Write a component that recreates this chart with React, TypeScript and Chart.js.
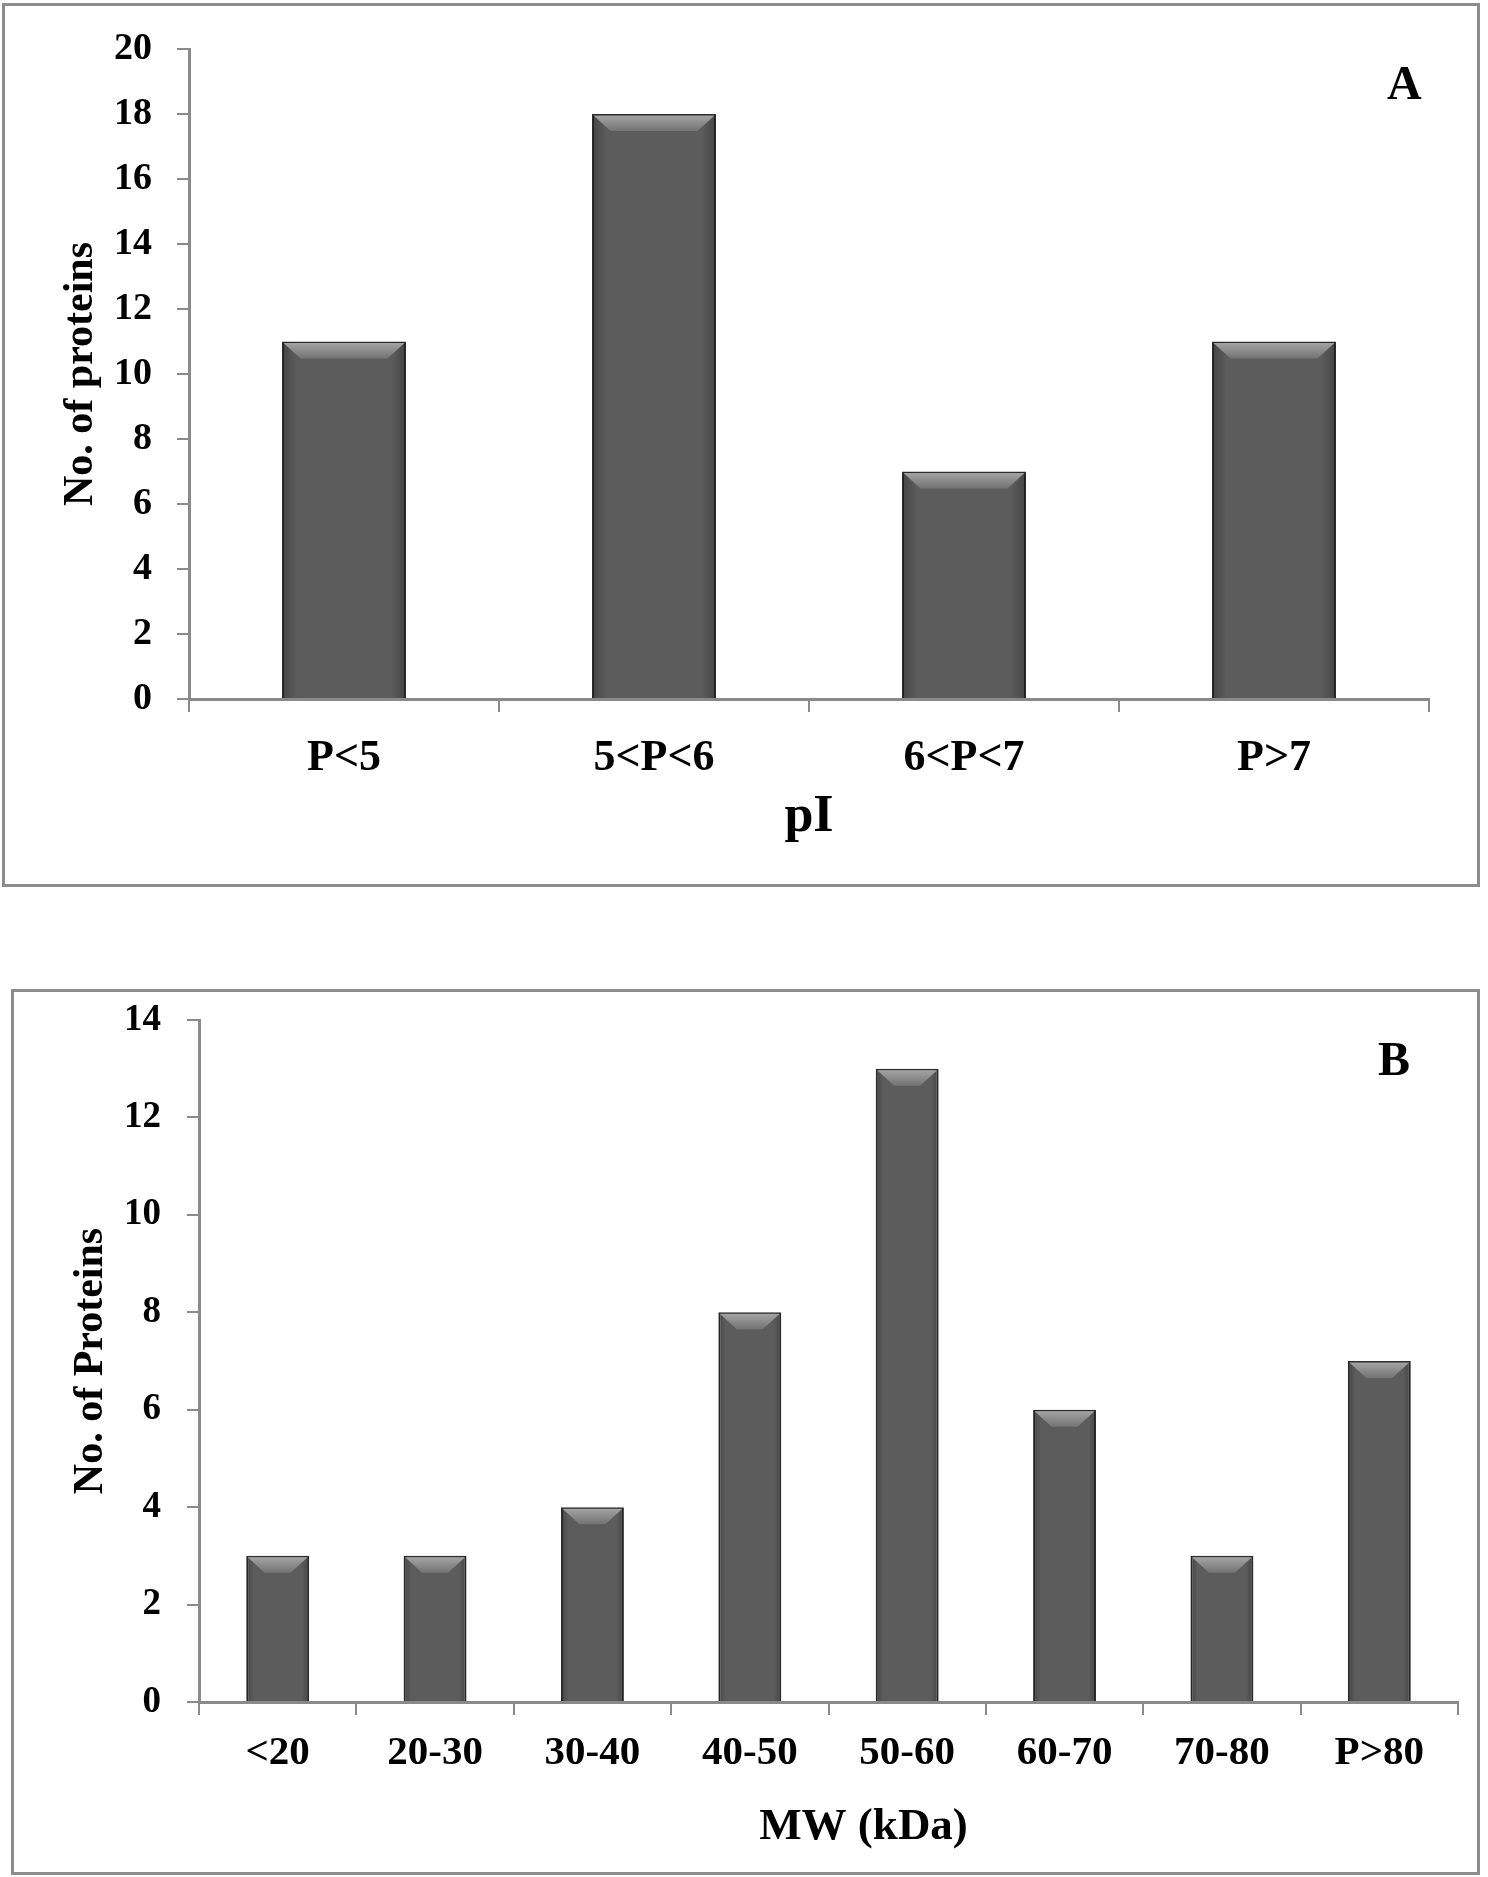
import React, { useEffect, useRef } from "react";
import { Chart, registerables } from "chart.js";

Chart.register(...registerables);

// ---------- data ----------
const pIBins = ["P<5", "5<P<6", "6<P<7", "P>7"];
const pICounts = [11, 18, 7, 11];
const pIYMax = 20;

const mwBins = ["<20", "20-30", "30-40", "40-50", "50-60", "60-70", "70-80", "P>80"];
const mwCounts = [3, 3, 4, 8, 13, 6, 3, 7];
const mwYMax = 14;

const yStep = 2;

const FONT = '"Liberation Serif", "Times New Roman", serif';
const AXIS_GRAY = "#8a8a8a";

// ---------- plugins ----------
const bevelPlugin = {
  id: "bevel",
  afterDatasetsDraw(chart: any) {
    const ctx = chart.ctx as CanvasRenderingContext2D;
    const meta = chart.getDatasetMeta(0);
    meta.data.forEach((bar: any) => {
      const p = bar.getProps(["x", "y", "base", "width"], true);
      const l = p.x - p.width / 2;
      const r = p.x + p.width / 2;
      const top = p.y;
      const bottom = p.base;
      const b = Math.min(17, p.width * 0.27);
      ctx.save();
      // side shading
      const hg = ctx.createLinearGradient(l, 0, r, 0);
      hg.addColorStop(0, "rgba(0,0,0,0.25)");
      hg.addColorStop(0.12, "rgba(0,0,0,0.0)");
      hg.addColorStop(0.88, "rgba(0,0,0,0.0)");
      hg.addColorStop(1, "rgba(0,0,0,0.25)");
      ctx.fillStyle = hg;
      ctx.fillRect(l + 1, top + 1, r - l - 2, bottom - top - 1);
      // top bevel
      const g = ctx.createLinearGradient(0, top, 0, top + b);
      g.addColorStop(0, "#a8a8a8");
      g.addColorStop(1, "#737373");
      ctx.beginPath();
      ctx.moveTo(l + 1.5, top + 1.5);
      ctx.lineTo(r - 1.5, top + 1.5);
      ctx.lineTo(r - 1.5 - b, top + b);
      ctx.lineTo(l + 1.5 + b, top + b);
      ctx.closePath();
      ctx.fillStyle = g;
      ctx.fill();
      ctx.restore();
    });
  },
};

const textPlugin = {
  id: "panelText",
  afterDraw(chart: any, _args: any, opts: any) {
    const ctx = chart.ctx as CanvasRenderingContext2D;
    const ca = chart.chartArea;
    ctx.save();
    ctx.fillStyle = "#000";
    // x title
    ctx.font = `bold ${opts.xTitleSize}px ${FONT}`;
    ctx.textAlign = "center";
    ctx.textBaseline = "alphabetic";
    ctx.fillText(opts.xTitle, (ca.left + ca.right) / 2 + opts.xTitleShift, ca.bottom + opts.xTitleDrop);
    // y title
    ctx.save();
    ctx.translate(opts.yTitleX, (ca.top + ca.bottom) / 2);
    ctx.rotate(-Math.PI / 2);
    ctx.font = `bold ${opts.yTitleSize}px ${FONT}`;
    ctx.fillText(opts.yTitle, 0, 0);
    ctx.restore();
    // panel letter
    ctx.font = `bold ${opts.letterSize}px ${FONT}`;
    ctx.textAlign = "left";
    ctx.fillText(opts.letter, opts.letterX, opts.letterY);
    ctx.restore();
  },
};

type PanelProps = {
  labels: string[];
  values: number[];
  yMax: number;
  top: number;
  height: number;
  pad: { left: number; right: number; top: number };
  yWidth: number;
  xHeight: number;
  yTickSize: number;
  xTickSize: number;
  yTickPad: number;
  xTickPad: number;
  text: any;
};

function Panel(props: PanelProps) {
  const ref = useRef<HTMLCanvasElement>(null);
  useEffect(() => {
    const chart = new Chart(ref.current as HTMLCanvasElement, {
      type: "bar",
      data: {
        labels: props.labels,
        datasets: [
          {
            data: props.values,
            backgroundColor: "#5c5c5c",
            borderColor: "#2c2c2c",
            borderWidth: 2,
            barPercentage: 1,
            categoryPercentage: 0.4,
          },
        ],
      },
      options: {
        responsive: false,
        animation: false,
        devicePixelRatio: 1,
        layout: { padding: { left: props.pad.left, right: props.pad.right, top: props.pad.top, bottom: 0 } },
        plugins: {
          legend: { display: false },
          tooltip: { enabled: false },
          // @ts-ignore
          panelText: props.text,
        },
        scales: {
          x: {
            offset: true,
            grid: {
              display: true,
              offset: true,
              drawOnChartArea: false,
              drawTicks: true,
              tickLength: 13,
              color: AXIS_GRAY,
              lineWidth: 2,
            },
            border: { display: true, color: AXIS_GRAY, width: 3 },
            ticks: {
              color: "#000",
              padding: props.xTickPad,
              maxRotation: 0,
              autoSkip: false,
              font: { family: FONT, size: props.xTickSize, weight: "bold" },
            },
            afterFit: (s: any) => {
              s.height = props.xHeight;
            },
          },
          y: {
            min: 0,
            max: props.yMax,
            grid: {
              display: true,
              drawOnChartArea: false,
              drawTicks: true,
              tickLength: 12,
              color: AXIS_GRAY,
              lineWidth: 2,
            },
            border: { display: true, color: AXIS_GRAY, width: 3 },
            ticks: {
              stepSize: yStep,
              color: "#000",
              padding: props.yTickPad,
              font: { family: FONT, size: props.yTickSize, weight: "bold" },
            },
            afterFit: (s: any) => {
              s.width = props.yWidth;
            },
          },
        },
      } as any,
      plugins: [bevelPlugin, textPlugin],
    });
    return () => chart.destroy();
  }, []);
  return (
    <canvas
      ref={ref}
      width={1488}
      height={props.height}
      style={{ position: "absolute", left: 0, top: props.top, width: 1488, height: props.height }}
    />
  );
}

export default function App() {
  return (
    <div
      style={{
        position: "absolute",
        left: 0,
        top: 0,
        width: 1488,
        height: 1877,
        background: "#fff",
        overflow: "hidden",
      }}
    >
      <div
        style={{
          position: "absolute",
          left: 2,
          top: 3,
          width: 1472,
          height: 878,
          border: "3px solid #8c8c8c",
        }}
      />
      <div
        style={{
          position: "absolute",
          left: 11,
          top: 989,
          width: 1463,
          height: 880,
          border: "3px solid #8c8c8c",
        }}
      />
      <Panel
        labels={pIBins}
        values={pICounts}
        yMax={pIYMax}
        top={0}
        height={900}
        pad={{ left: 69, right: 59, top: 49 }}
        yWidth={120}
        xHeight={201}
        yTickSize={38}
        xTickSize={44}
        yTickPad={25}
        xTickPad={20}
        text={{
          xTitle: "pI",
          xTitleSize: 52,
          xTitleShift: 0,
          xTitleDrop: 132,
          yTitle: "No. of proteins",
          yTitleSize: 42,
          yTitleX: 92,
          letter: "A",
          letterSize: 48,
          letterX: 1387,
          letterY: 99,
        }}
      />
      <Panel
        labels={mwBins}
        values={mwCounts}
        yMax={mwYMax}
        top={900}
        height={977}
        pad={{ left: 79, right: 30, top: 120 }}
        yWidth={120}
        xHeight={175}
        yTickSize={37}
        xTickSize={41}
        yTickPad={26}
        xTickPad={14}
        text={{
          xTitle: "MW (kDa)",
          xTitleSize: 45,
          xTitleShift: 35,
          xTitleDrop: 137,
          yTitle: "No. of Proteins",
          yTitleSize: 42,
          yTitleX: 102,
          letter: "B",
          letterSize: 48,
          letterX: 1378,
          letterY: 175,
        }}
      />
    </div>
  );
}
